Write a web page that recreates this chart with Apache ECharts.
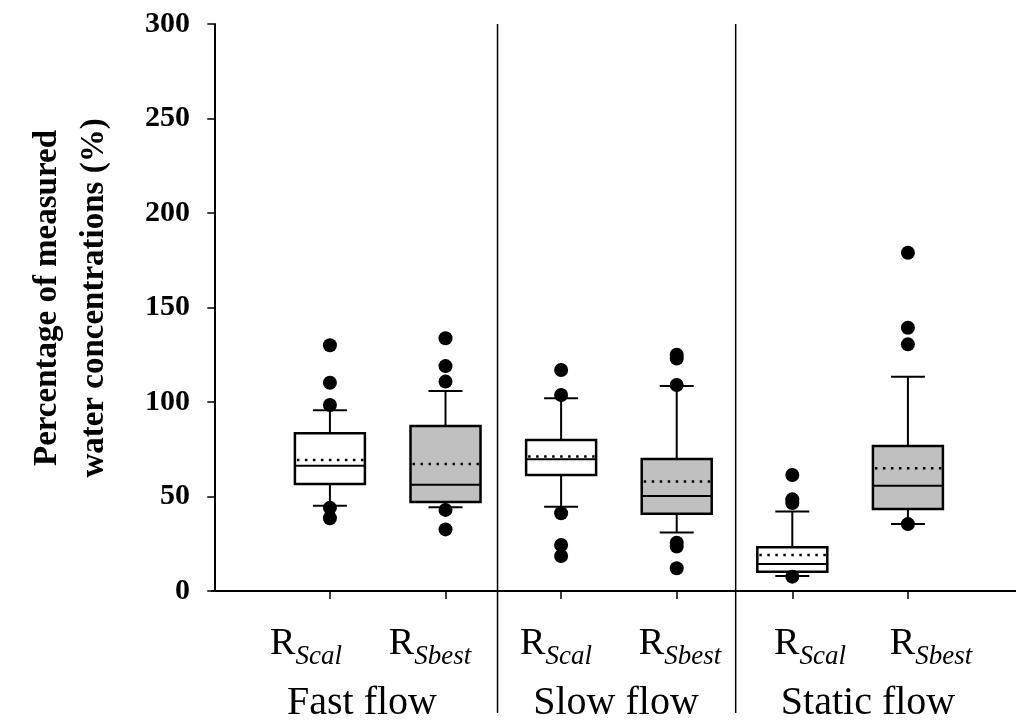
<!DOCTYPE html>
<html>
<head>
<meta charset="utf-8">
<script src="https://cdn.jsdelivr.net/npm/echarts@6/dist/echarts.min.js"></script>
<style>
  html, body { margin: 0; padding: 0; background: #ffffff; }
  #chart { width: 1016px; height: 724px; }
</style>
</head>
<body>
<div id="chart"></div>
<script>
// Box positions on the x scale and their labels
const positions = [1, 2, 3, 4, 5, 6];
const methodSubs = ['Scal', 'Sbest', 'Scal', 'Sbest', 'Scal', 'Sbest'];
const groupNames = ['Fast flow', 'Slow flow', 'Static flow'];
const dividers = [2.45, 4.51];

// Box statistics (% of measured water concentrations)
const lowerWhisker = [45.1, 44.3, 44.6, 30.9, 7.9, 35.4];
const q1 = [56.6, 47.1, 61.4, 40.9, 10.2, 43.4];
const median = [66.3, 56.2, 69.7, 50.3, 14.3, 55.7];
const q3 = [83.4, 87.3, 79.9, 69.8, 23.1, 76.7];
const upperWhisker = [95.6, 105.8, 102.0, 108.5, 42.0, 113.4];
const mean = [69.3, 67.2, 71.1, 58.0, 19.0, 64.9];

// Points beyond the whiskers
const outliers = [
  [130, 110.2, 98.4, 44.0, 38.5],
  [133.7, 119, 110.8, 42.9, 32.6],
  [116.9, 103.7, 41.1, 24.3, 18.5],
  [125, 123, 109, 25.5, 23.5, 12],
  [61.4, 48.5, 46.5, 7.6],
  [179, 139.3, 130.5, 35.4]
];

// Y axis ticks
const yMin = 0, yMax = 300, yStep = 50;

const BOX_W = 70;
const CAP_W = 34;
const boxFill = ['#ffffff', '#c0c0c0'];
const serif = 'Liberation Serif';

const boxData = positions.map((p, i) => [p, lowerWhisker[i], q1[i], median[i], q3[i], upperWhisker[i], mean[i], i % 2]);
const outlierData = [];
positions.forEach((p, i) => outliers[i].forEach(v => outlierData.push([p, v])));

const chart = echarts.init(document.getElementById('chart'));

const stroke = { stroke: '#000', lineWidth: 2 };

chart.setOption({
  animation: false,
  backgroundColor: '#ffffff',
  grid: { left: 212, right: 0, top: 24, bottom: 133, containLabel: false },
  xAxis: {
    type: 'value',
    min: -0.02,
    max: 6.935,
    splitLine: { show: false },
    axisLine: { show: true, onZero: false, lineStyle: { color: '#000', width: 2 } },
    axisTick: { show: true, customValues: positions, length: 8, lineStyle: { color: '#000', width: 1.5 } },
    axisLabel: { show: false }
  },
  yAxis: {
    type: 'value',
    min: yMin,
    max: yMax,
    interval: yStep,
    splitLine: { show: false },
    axisLine: { show: true, lineStyle: { color: '#000', width: 2 } },
    axisTick: { show: true, length: 7, lineStyle: { color: '#000', width: 1.5 } },
    axisLabel: { color: '#000', fontFamily: serif, fontWeight: 'bold', fontSize: 30, margin: 22 }
  },
  graphic: [
    {
      type: 'text', rotation: Math.PI / 2,
      x: 24, y: 298,
      style: {
        text: 'Percentage of measured\nwater concentrations (%)',
        font: 'bold 33px "Liberation Serif"', fill: '#000', align: 'center', lineHeight: 47
      }
    },
    ...positions.map((p, i) => ({
      type: 'text',
      x: [306, 430, 556, 680, 810, 931][i], y: 670,
      style: {
        text: '{r|R}{s|' + methodSubs[i] + '}',
        align: 'center', verticalAlign: 'bottom', fill: '#000',
        rich: {
          r: { fontFamily: serif, fontSize: 38, verticalAlign: 'top', fill: '#000' },
          s: { fontFamily: serif, fontSize: 27, fontStyle: 'italic', verticalAlign: 'bottom', padding: [18, 0, 0, 0], fill: '#000' }
        }
      }
    })),
    ...groupNames.map((g, i) => ({
      type: 'text',
      x: [362, 616, 868][i], y: 723,
      style: { text: g, font: '40px "Liberation Serif"', fill: '#000', align: 'center', verticalAlign: 'bottom' }
    }))
  ],
  series: [
    {
      type: 'custom',
      clip: false,
      silent: true,
      data: dividers.map(d => [d]),
      renderItem: (params, api) => {
        const top = api.coord([api.value(0), yMax]);
        const bot = api.coord([api.value(0), yMin]);
        return {
          type: 'line',
          shape: { x1: top[0], y1: top[1], x2: bot[0], y2: bot[1] + 122 },
          style: { stroke: '#000', lineWidth: 1.5 }
        };
      }
    },
    {
      type: 'custom',
      silent: true,
      data: boxData,
      encode: { x: 0, y: [1, 2, 3, 4, 5] },
      renderItem: (params, api) => {
        const x = api.value(0);
        const pt = v => api.coord([x, v]);
        const cx = pt(0)[0];
        const yLw = pt(api.value(1))[1];
        const yQ1 = pt(api.value(2))[1];
        const yMed = pt(api.value(3))[1];
        const yQ3 = pt(api.value(4))[1];
        const yUw = pt(api.value(5))[1];
        const yMean = pt(api.value(6))[1];
        const fill = boxFill[api.value(7)];
        const hb = BOX_W / 2, hc = CAP_W / 2;
        return {
          type: 'group',
          children: [
            { type: 'line', shape: { x1: cx, y1: yQ3, x2: cx, y2: yUw }, style: stroke },
            { type: 'line', shape: { x1: cx, y1: yQ1, x2: cx, y2: yLw }, style: stroke },
            { type: 'line', shape: { x1: cx - hc, y1: yUw, x2: cx + hc, y2: yUw }, style: stroke },
            { type: 'line', shape: { x1: cx - hc, y1: yLw, x2: cx + hc, y2: yLw }, style: stroke },
            { type: 'rect', shape: { x: cx - hb, y: yQ3, width: BOX_W, height: yQ1 - yQ3 }, style: { fill: fill, stroke: '#000', lineWidth: 2.5 } },
            { type: 'line', shape: { x1: cx - hb, y1: yMed, x2: cx + hb, y2: yMed }, style: stroke },
            { type: 'line', shape: { x1: cx - hb + 2, y1: yMean, x2: cx + hb - 1, y2: yMean }, style: { stroke: '#000', lineWidth: 2.5, lineDash: [2.5, 5.5] } }
          ]
        };
      }
    },
    {
      type: 'scatter',
      silent: true,
      data: outlierData,
      symbol: 'circle',
      symbolSize: 14,
      itemStyle: { color: '#000', opacity: 1 },
      z: 5
    }
  ]
});
</script>
</body>
</html>
